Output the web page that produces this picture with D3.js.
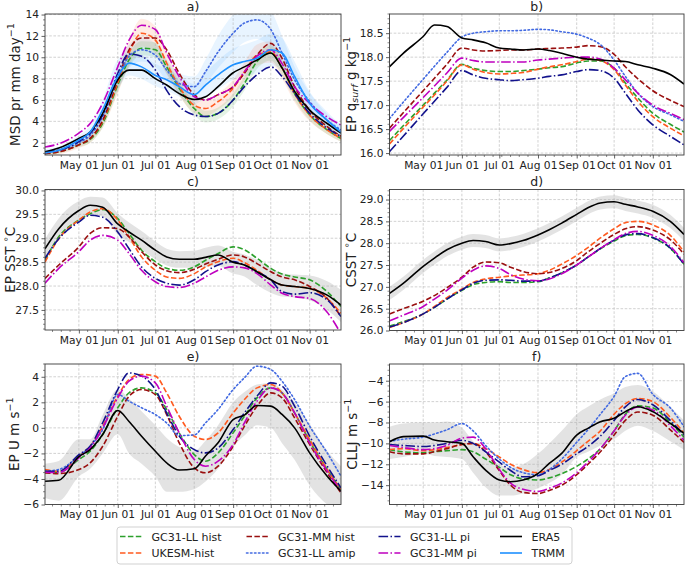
<!DOCTYPE html>
<html><head><meta charset="utf-8">
<script src="https://cdn.jsdelivr.net/npm/d3@7"></script>
<style>
body{margin:0;background:#fff;}
svg{font-family:"DejaVu Sans",sans-serif;}
</style></head><body>
<svg id="chart" width="685" height="567"></svg>
<script>
// ---------------- DATA ----------------
const dates = ["2001-04-04","2001-04-15","2001-05-01","2001-05-10","2001-05-20","2001-06-01","2001-06-10","2001-06-20","2001-07-01","2001-07-10","2001-07-20","2001-08-01","2001-08-10","2001-08-20","2001-09-01","2001-09-10","2001-09-20","2001-10-01","2001-10-10","2001-10-20","2001-11-01","2001-11-15","2001-11-26"];
const xTickDates = ["2001-05-01","2001-06-01","2001-07-01","2001-08-01","2001-09-01","2001-10-01","2001-11-01"];
const seriesNames = ["GC31-LL hist","UKESM-hist","GC31-MM hist","GC31-LL amip","GC31-LL pi","GC31-MM pi","ERA5","TRMM"];

// a) MSD precipitation
const msdLLhist = [1.0,1.15,1.8,2.3,3.8,7.4,9.75,10.85,10.7,9.1,7.1,5.2,4.45,4.75,6.0,7.55,9.6,10.4,9.0,6.6,4.6,3.2,2.4];
const msdUKESM  = [1.0,1.15,1.8,2.4,4.0,7.6,10.4,12.25,11.6,9.45,7.25,5.5,5.2,5.85,7.1,8.65,10.2,10.5,9.0,6.6,4.6,3.2,2.4];
const msdMMhist = [1.0,1.15,1.8,2.4,4.1,7.9,10.7,11.8,11.8,10.7,8.5,6.5,6.0,6.5,7.25,8.5,10.2,11.3,9.9,7.25,5.05,3.5,2.6];
const msdAmip   = [1.15,1.3,2.0,2.7,4.45,8.0,10.1,10.7,10.2,8.8,7.55,7.25,8.65,10.5,12.25,13.2,13.5,12.6,10.4,7.9,5.85,4.1,3.2];
const msdLLpi   = [1.15,1.3,2.1,2.9,4.6,8.5,10.3,10.1,8.8,6.9,5.4,4.6,4.45,4.75,6.0,7.25,8.35,9.1,8.2,6.6,4.75,3.35,2.6];
const msdMMpi   = [1.6,1.9,2.9,3.8,5.7,9.1,11.6,13.0,12.6,10.4,8.2,6.3,6.0,6.5,7.25,8.65,10.1,10.7,9.4,7.25,5.7,4.4,3.65];
const msdERA5   = [1.15,1.5,2.4,3.0,4.75,7.9,8.8,8.8,8.0,7.4,6.6,6.05,6.3,7.25,8.55,9.1,9.75,10.4,9.0,6.8,5.05,3.8,2.9];
const msdTRMM   = [1.05,1.3,2.25,3.0,5.1,8.2,9.45,9.1,8.3,7.9,7.25,6.5,7.4,8.35,9.3,9.6,9.9,10.7,10.4,8.2,5.7,4.1,3.0];
const msdAmipLo = [1.0,1.1,1.7,2.2,3.7,7.0,9.0,9.6,9.1,7.8,6.6,6.3,7.5,9.0,10.5,11.4,11.7,10.8,8.8,6.7,5.0,3.5,2.7];
const msdAmipHi = [1.4,1.6,2.4,3.2,5.2,9.0,11.2,11.8,11.3,9.8,8.5,8.2,9.8,12.0,14.0,15.0,15.3,14.4,12.0,9.1,6.7,4.7,3.7];
const msdTRMMLo = [0.9,1.1,1.9,2.5,4.2,7.0,8.3,8.0,7.3,6.9,6.3,5.6,6.2,7.0,7.9,8.2,8.5,9.2,8.9,6.9,4.7,3.4,2.5];
const msdTRMMHi = [1.3,1.6,2.7,3.6,6.0,9.8,10.5,10.2,9.4,8.9,8.3,7.5,8.6,9.7,10.8,11.2,11.6,12.2,11.8,9.6,6.8,4.9,3.6];
const msdUKESMLo = [0.8,0.9,1.5,2.0,3.4,6.6,9.2,11.0,10.4,8.4,6.4,4.8,4.5,5.1,6.3,7.8,9.2,9.5,8.0,5.8,4.0,2.8,2.1];
const msdUKESMHi = [1.2,1.4,2.1,2.8,4.6,8.6,11.6,13.6,12.9,10.5,8.1,6.2,5.9,6.6,7.9,9.5,11.2,11.5,10.0,7.4,5.2,3.6,2.7];
const msdLLhistLo = [0.9,1.0,1.6,2.0,3.4,6.8,9.1,10.2,10.0,8.5,6.5,4.6,3.9,4.2,5.4,6.9,8.9,9.7,8.3,6.0,4.1,2.8,2.1];
const msdLLhistHi = [1.1,1.3,2.0,2.6,4.2,8.0,10.4,11.5,11.4,9.7,7.7,5.8,5.0,5.3,6.6,8.2,10.3,11.1,9.7,7.2,5.1,3.6,2.7];

// b) EP surface specific humidity
const qLLhist = [16.26,16.57,17.0,17.25,17.52,17.85,17.77,17.72,17.7,17.7,17.72,17.75,17.78,17.8,17.88,17.92,17.92,17.77,17.46,17.15,16.83,16.6,16.44];
const qUKESM  = [16.19,16.51,16.96,17.21,17.5,17.84,17.75,17.68,17.65,17.66,17.68,17.75,17.8,17.84,17.91,17.96,17.93,17.74,17.42,17.08,16.76,16.52,16.36];
const qMMhist = [16.52,16.84,17.3,17.56,17.85,18.19,18.15,18.13,18.14,18.15,18.15,18.17,18.18,18.19,18.21,18.24,18.22,18.06,17.8,17.55,17.3,17.1,16.97];
const qAmip   = [16.72,17.06,17.54,17.81,18.1,18.42,18.5,18.53,18.55,18.55,18.56,18.58,18.57,18.53,18.48,18.4,18.26,17.94,17.6,17.25,16.97,16.8,16.66];
const qLLpi   = [16.03,16.35,16.82,17.08,17.37,17.72,17.63,17.56,17.53,17.51,17.53,17.56,17.6,17.63,17.7,17.74,17.72,17.56,17.25,16.9,16.59,16.35,16.17];
const qMMpi   = [16.45,16.74,17.16,17.4,17.67,17.98,17.93,17.9,17.9,17.9,17.9,17.94,17.96,17.98,18.0,18.0,17.96,17.77,17.53,17.25,17.0,16.83,16.7];
const qERA5   = [17.8,18.08,18.43,18.67,18.64,18.4,18.36,18.3,18.19,18.17,18.15,18.17,18.14,18.08,18.0,17.96,17.94,17.92,17.91,17.84,17.77,17.64,17.44];

// c) EP SST
const sstLLhist = [28.54,29.03,29.38,29.51,29.6,29.41,29.1,28.75,28.51,28.37,28.33,28.4,28.54,28.68,28.82,28.76,28.58,28.37,28.25,28.19,28.13,27.88,27.57];
const sstUKESM  = [28.5,28.99,29.38,29.55,29.62,29.38,29.03,28.61,28.33,28.19,28.16,28.26,28.4,28.51,28.58,28.49,28.33,28.13,28.02,27.99,27.95,27.74,27.43];
const sstMMhist = [28.16,28.44,28.82,29.1,29.22,29.2,29.03,28.72,28.44,28.32,28.28,28.35,28.46,28.56,28.65,28.61,28.47,28.3,28.19,28.13,27.99,27.74,27.36];
const sstLLpi   = [28.58,28.99,29.34,29.48,29.44,29.13,28.78,28.4,28.16,28.06,28.02,28.13,28.3,28.44,28.51,28.44,28.3,28.13,27.88,27.83,27.86,27.71,27.36];
const sstMMpi   = [28.06,28.37,28.72,28.96,29.06,28.96,28.68,28.33,28.09,27.99,27.97,28.06,28.19,28.33,28.4,28.38,28.26,28.02,27.85,27.78,27.74,27.45,27.0];
const sstERA5   = [28.78,29.2,29.58,29.69,29.65,29.3,29.13,28.96,28.75,28.61,28.56,28.56,28.6,28.65,28.5,28.44,28.3,28.13,28.02,27.99,27.95,27.81,27.6];
const sstERA5Lo = [28.55,28.98,29.38,29.5,29.45,29.08,28.92,28.76,28.56,28.43,28.38,28.38,28.4,28.42,28.26,28.2,28.02,27.86,27.78,27.76,27.7,27.5,27.25];
const sstERA5Hi = [28.98,29.42,29.78,29.87,29.85,29.52,29.33,29.15,28.93,28.78,28.73,28.74,28.8,28.85,28.72,28.66,28.55,28.38,28.27,28.24,28.22,28.1,27.92];

// d) CSST
const csstLLhist = [26.1,26.2,26.38,26.53,26.72,26.92,27.05,27.1,27.12,27.1,27.1,27.12,27.2,27.32,27.5,27.68,27.87,28.05,28.17,28.2,28.12,27.88,27.52];
const csstUKESM  = [26.07,26.18,26.38,26.55,26.75,26.95,27.1,27.18,27.22,27.25,27.27,27.3,27.38,27.52,27.72,27.9,28.12,28.33,28.47,28.5,28.42,28.18,27.8];
const csstMMhist = [26.38,26.5,26.67,26.8,26.98,27.22,27.45,27.57,27.55,27.45,27.35,27.3,27.33,27.42,27.6,27.8,28.0,28.2,28.33,28.38,28.3,28.08,27.75];
const csstLLpi   = [26.08,26.18,26.38,26.53,26.72,26.93,27.08,27.15,27.16,27.15,27.13,27.13,27.2,27.32,27.5,27.68,27.88,28.07,28.19,28.22,28.13,27.89,27.52];
const csstMMpi   = [26.22,26.35,26.55,26.72,26.92,27.2,27.38,27.48,27.42,27.28,27.18,27.14,27.18,27.3,27.5,27.68,27.88,28.08,28.22,28.27,28.18,27.93,27.55];
const csstERA5   = [26.85,27.08,27.47,27.66,27.85,28.0,28.06,28.04,27.96,27.99,28.06,28.19,28.31,28.46,28.66,28.81,28.92,28.95,28.89,28.83,28.73,28.5,28.2];
const csstERA5Lo = [26.7,26.93,27.32,27.51,27.7,27.85,27.91,27.89,27.81,27.84,27.91,28.04,28.16,28.31,28.51,28.66,28.77,28.8,28.74,28.68,28.58,28.35,28.05];
const csstERA5Hi = [27.0,27.23,27.62,27.81,28.0,28.15,28.21,28.19,28.11,28.14,28.21,28.34,28.46,28.61,28.81,28.96,29.07,29.1,29.04,28.98,28.88,28.65,28.35];

// e) EP U wind
const uLLhist = [-3.4,-3.47,-2.48,-1.83,-0.52,1.57,2.74,3.13,2.74,1.44,-0.39,-2.09,-2.61,-1.96,-0.39,0.91,2.35,3.13,2.74,1.17,-1.04,-3.26,-4.83];
const uUKESM  = [-3.26,-3.4,-2.22,-1.44,0.13,2.48,3.79,4.18,4.05,2.74,0.91,-0.65,-0.91,-0.39,1.17,2.22,3.13,3.39,2.74,1.17,-0.91,-3.26,-4.83];
const uMMhist = [-3.52,-3.58,-3.26,-2.74,-1.44,0.91,2.48,3.0,2.61,1.04,-1.17,-3.13,-3.52,-3.0,-1.44,0.13,1.7,2.74,2.35,0.78,-1.3,-3.52,-5.09];
const uAmip   = [-3.4,-3.26,-2.22,-1.44,-0.13,2.61,2.09,1.57,1.04,0.39,-0.6,-0.55,0.39,1.44,3.0,3.92,4.83,4.57,3.65,2.22,0.13,-1.96,-3.79];
const uLLpi   = [-3.4,-3.4,-2.1,-1.44,0.4,3.0,4.3,4.05,3.0,1.17,-0.65,-1.7,-1.96,-1.57,-0.13,1.17,2.48,3.52,3.26,1.7,-0.65,-3.0,-4.7];
const uMMpi   = [-3.47,-3.5,-2.35,-1.57,0.0,2.35,3.65,4.05,3.52,1.7,-0.39,-2.48,-3.0,-2.61,-1.3,0.39,2.09,3.13,2.74,1.17,-1.17,-3.39,-4.96];
const uERA5   = [-4.18,-4.1,-2.25,-1.7,-0.52,1.36,0.5,-0.65,-1.83,-2.74,-3.3,-3.2,-2.2,-1.17,0.65,1.0,1.75,1.7,1.05,0.0,-1.96,-3.79,-4.96];
const uERA5Lo = [-5.5,-5.7,-3.8,-3.2,-2.0,-0.5,-2.0,-2.8,-3.8,-5.0,-5.0,-4.8,-4.2,-3.2,-1.5,-0.6,0.2,0.0,-1.2,-2.5,-4.5,-6.0,-6.5];
const uERA5Hi = [-2.8,-2.6,-0.9,-0.9,1.0,3.0,2.3,1.3,0.2,-0.8,-1.5,-1.8,-1.0,0.2,2.0,2.8,3.4,3.5,3.0,2.0,0.3,-1.8,-3.0];

// f) CLLJ
const jLLhist = [-10.6,-10.8,-10.9,-10.8,-10.7,-10.6,-10.8,-11.5,-12.3,-13.0,-13.4,-13.5,-13.3,-12.9,-12.2,-11.5,-10.5,-8.8,-7.2,-6.4,-6.6,-8.0,-9.4];
const jUKESM  = [-10.6,-10.5,-10.7,-10.6,-10.4,-10.1,-10.0,-10.5,-11.3,-12.0,-12.5,-12.8,-12.5,-11.8,-10.7,-9.8,-8.8,-7.2,-6.2,-5.7,-6.0,-7.5,-9.0];
const jMMhist = [-10.8,-11.0,-11.0,-10.8,-10.5,-10.1,-10.0,-10.8,-12.6,-14.0,-14.7,-14.8,-14.5,-14.0,-13.0,-12.0,-10.8,-9.2,-7.8,-7.0,-7.3,-8.7,-9.9];
const jAmip   = [-9.8,-9.6,-9.4,-9.1,-8.7,-8.1,-8.8,-10.2,-11.5,-12.3,-12.8,-13.0,-12.5,-11.5,-9.9,-8.7,-7.2,-5.5,-3.6,-3.3,-5.3,-6.6,-8.4];
const jLLpi   = [-10.1,-10.2,-10.3,-10.2,-10.0,-9.7,-10.0,-10.8,-11.8,-12.6,-13.2,-13.1,-12.6,-12.0,-11.0,-10.3,-9.3,-7.8,-6.5,-5.8,-6.3,-7.8,-9.2];
const jMMpi   = [-10.2,-10.4,-10.6,-10.5,-10.2,-9.5,-9.4,-10.5,-12.5,-13.8,-14.4,-14.6,-14.3,-13.8,-12.8,-11.8,-10.5,-8.8,-7.3,-6.5,-6.8,-8.3,-9.7];
const jERA5   = [-9.84,-9.35,-9.3,-9.68,-9.84,-10.0,-11.28,-12.56,-13.51,-13.67,-13.51,-12.88,-11.92,-10.96,-9.2,-8.56,-7.92,-7.6,-6.96,-6.49,-6.96,-8.08,-9.04];
const jERA5Lo = [-11.5,-11.3,-11.0,-11.2,-11.3,-11.5,-12.8,-14.2,-15.0,-15.0,-14.8,-14.3,-13.8,-13.0,-11.3,-10.8,-10.2,-9.6,-8.8,-8.3,-8.8,-9.8,-10.6];
const jERA5Hi = [-8.4,-8.1,-8.0,-8.0,-7.9,-8.5,-9.8,-11.0,-12.0,-12.3,-12.0,-11.0,-10.0,-8.8,-7.2,-6.5,-5.8,-5.2,-4.6,-4.4,-5.0,-6.5,-7.8];

// y tick values
const ticksA = [2,4,6,8,10,12,14];
const ticksB = [16.0,16.5,17.0,17.5,18.0,18.5];
const ticksC = [27.5,28.0,28.5,29.0,29.5,30.0];
const ticksD = [26.0,26.5,27.0,27.5,28.0,28.5,29.0];
const ticksE = [-6,-4,-2,0,2,4];
const ticksF = [-14,-12,-10,-8,-6,-4];

// ---------------- STYLES ----------------
const STY = {
  "GC31-LL hist": {c:"#2ca02c", dash:"5.5,2.4"},
  "UKESM-hist":   {c:"#ff5a1f", dash:"5.5,2.4"},
  "GC31-MM hist": {c:"#990f0f", dash:"5.5,2.4"},
  "GC31-LL amip": {c:"#4169e1", dash:"1.5,2.5"},
  "GC31-LL pi":   {c:"#12128c", dash:"9.6,2.4,1.5,2.4"},
  "GC31-MM pi":   {c:"#bf00bf", dash:"9.6,2.4,1.5,2.4"},
  "ERA5":         {c:"#000000", dash:null},
  "TRMM":         {c:"#1e90ff", dash:null}
};

const parse = d3.timeParse("%Y-%m-%d");
const D = dates.map(parse);
const dom = [parse("2001-04-04"), parse("2001-11-26")];

const panels = [
  {id:"a", title:"a)", x0:45, x1:341, y0:14, y1:155, yd:[0.85,14.05], ticks:ticksA, fmt:d3.format("d"), labX:15,
   label:[["MSD pr mm day",""],["−1","sup"]],
   bands:[{lo:msdAmipLo,hi:msdAmipHi,c:"#1e90ff",o:0.1},{lo:msdTRMMLo,hi:msdTRMMHi,c:"#1e90ff",o:0.1},
          {lo:msdUKESMLo,hi:msdUKESMHi,c:"#ff5a1f",o:0.12},{lo:msdLLhistLo,hi:msdLLhistHi,c:"#2ca02c",o:0.12}],
   series:{"GC31-LL hist":msdLLhist,"UKESM-hist":msdUKESM,"GC31-MM hist":msdMMhist,"GC31-LL amip":msdAmip,"GC31-LL pi":msdLLpi,"GC31-MM pi":msdMMpi,"ERA5":msdERA5,"TRMM":msdTRMM}},
  {id:"b", title:"b)", x0:389.5, x1:684, y0:14, y1:155, yd:[15.96,18.9], ticks:ticksB, fmt:d3.format(".1f"), labX:351,
   label:[["EP q",""],["surf","sub"],[" g kg",""],["−1","sup"]],
   bands:[],
   series:{"GC31-LL hist":qLLhist,"UKESM-hist":qUKESM,"GC31-MM hist":qMMhist,"GC31-LL amip":qAmip,"GC31-LL pi":qLLpi,"GC31-MM pi":qMMpi,"ERA5":qERA5}},
  {id:"c", title:"c)", x0:45, x1:341, y0:189.5, y1:330, yd:[27.08,30.02], ticks:ticksC, fmt:d3.format(".1f"), labX:10,
   label:[["EP SST ",""],["∘","sup"],["C",""]],
   bands:[{lo:sstERA5Lo,hi:sstERA5Hi,c:"#808080",o:0.22}],
   series:{"GC31-LL hist":sstLLhist,"UKESM-hist":sstUKESM,"GC31-MM hist":sstMMhist,"GC31-LL pi":sstLLpi,"GC31-MM pi":sstMMpi,"ERA5":sstERA5}},
  {id:"d", title:"d)", x0:389.5, x1:684, y0:189.5, y1:330.5, yd:[26.0,29.23], ticks:ticksD, fmt:d3.format(".1f"), labX:351,
   label:[["CSST ",""],["∘","sup"],["C",""]],
   bands:[{lo:csstERA5Lo,hi:csstERA5Hi,c:"#808080",o:0.22}],
   series:{"GC31-LL hist":csstLLhist,"UKESM-hist":csstUKESM,"GC31-MM hist":csstMMhist,"GC31-LL pi":csstLLpi,"GC31-MM pi":csstMMpi,"ERA5":csstERA5}},
  {id:"e", title:"e)", x0:45, x1:341, y0:364, y1:504.5, yd:[-6,5], ticks:ticksE, fmt:d3.format("d"), labX:14,
   label:[["EP U m s",""],["−1","sup"]],
   bands:[{lo:uERA5Lo,hi:uERA5Hi,c:"#808080",o:0.22}],
   series:{"GC31-LL hist":uLLhist,"UKESM-hist":uUKESM,"GC31-MM hist":uMMhist,"GC31-LL amip":uAmip,"GC31-LL pi":uLLpi,"GC31-MM pi":uMMpi,"ERA5":uERA5}},
  {id:"f", title:"f)", x0:389.5, x1:684, y0:364, y1:504.5, yd:[-15.85,-2.4], ticks:ticksF, fmt:d3.format("d"), labX:352,
   label:[["CLLJ m s",""],["−1","sup"]],
   bands:[{lo:jERA5Lo,hi:jERA5Hi,c:"#808080",o:0.22}],
   series:{"GC31-LL hist":jLLhist,"UKESM-hist":jUKESM,"GC31-MM hist":jMMhist,"GC31-LL amip":jAmip,"GC31-LL pi":jLLpi,"GC31-MM pi":jMMpi,"ERA5":jERA5}}
];

const svg = d3.select("#chart");
const defs = svg.append("defs");
const TXT = "#222";
const AX = "#3a3a3a";
const xFmt = d3.timeFormat("%b %d");

function minorTicks(ticks, dom) {
  const step = ticks[1]-ticks[0];
  const exp = Math.pow(10, Math.floor(Math.log10(step)));
  const m = step/exp;
  const nd = [1,2.5,5,10].some(v=>Math.abs(v-m)<1e-6) ? 5 : 4;
  const ms = step/nd, out=[];
  const lo = Math.min(dom[0],dom[1]), hi = Math.max(dom[0],dom[1]);
  for (let v = Math.ceil(lo/ms-1e-9)*ms; v <= hi+1e-9; v += ms) {
    if (!ticks.some(t=>Math.abs(t-v)<ms*0.01)) out.push(v);
  }
  return out;
}

panels.forEach(p => {
  const x = d3.scaleTime().domain(dom).range([p.x0, p.x1]);
  const y = d3.scaleLinear().domain(p.yd).range([p.y1, p.y0]);
  const g = svg.append("g");
  const clip = "clip-"+p.id;
  defs.append("clipPath").attr("id",clip).append("rect")
    .attr("x",p.x0).attr("y",p.y0).attr("width",p.x1-p.x0).attr("height",p.y1-p.y0);

  // bands
  p.bands.forEach(b => {
    const area = d3.area().x((d,i)=>x(D[i])).y0((d,i)=>y(b.lo[i])).y1((d,i)=>y(b.hi[i])).curve(d3.curveMonotoneX);
    g.append("path").datum(b.lo).attr("d",area).attr("fill",b.c).attr("fill-opacity",b.o)
      .attr("clip-path",`url(#${clip})`);
  });

  // grid
  const xt = xTickDates.map(parse);
  const grid = g.append("g").attr("stroke","#b0b0b0").attr("stroke-width",0.7).attr("stroke-dasharray","2.6,1.6").attr("opacity",0.8);
  xt.forEach(t => grid.append("line").attr("x1",x(t)).attr("x2",x(t)).attr("y1",p.y0).attr("y2",p.y1));
  p.ticks.forEach(t => { if (y(t) > p.y0+0.5 && y(t) < p.y1-0.5) grid.append("line").attr("x1",p.x0).attr("x2",p.x1).attr("y1",y(t)).attr("y2",y(t)); });

  // lines
  const line = d3.line().x((d,i)=>x(D[i])).y(d=>y(d)).curve(d3.curveMonotoneX);
  const lg = g.append("g").attr("clip-path",`url(#${clip})`);
  seriesNames.forEach(name => {
    const vals = p.series[name];
    if (!vals) return;
    const s = STY[name];
    lg.append("path").datum(vals).attr("d",line).attr("fill","none")
      .attr("stroke",s.c).attr("stroke-width",1.6)
      .attr("stroke-dasharray",s.dash)
      .attr("stroke-linecap", name==="GC31-LL amip" ? "round" : "butt");
  });

  // x axis
  const xa = d3.axisBottom(x).tickValues(xt).tickFormat(xFmt).tickSize(3.5).tickPadding(2.5);
  const xg = g.append("g").attr("transform",`translate(0,${p.y1})`).call(xa);
  xg.select(".domain").remove();
  xg.selectAll("line").attr("stroke",AX).attr("stroke-width",0.8);
  xg.selectAll("text").attr("font-size",10.7).attr("fill",TXT).attr("font-family","DejaVu Sans");
  // minor x ticks (weekly)
  const mx = [];
  for (let t = d3.timeDay.offset(parse("2001-05-01"), -21); t <= dom[1]; t = d3.timeDay.offset(t,7)) {
    if (t >= dom[0] && !xt.some(u=>Math.abs(u-t)<864e5*2)) mx.push(t);
  }
  mx.forEach(t => g.append("line").attr("x1",x(t)).attr("x2",x(t)).attr("y1",p.y1).attr("y2",p.y1+2)
    .attr("stroke",AX).attr("stroke-width",0.6));

  // y axis
  const ya = d3.axisLeft(y).tickValues(p.ticks).tickFormat(p.fmt).tickSize(3.5).tickPadding(2.5);
  const yg = g.append("g").attr("transform",`translate(${p.x0},0)`).call(ya);
  yg.select(".domain").remove();
  yg.selectAll("line").attr("stroke",AX).attr("stroke-width",0.8);
  yg.selectAll("text").attr("font-size",10.7).attr("fill",TXT).attr("font-family","DejaVu Sans");
  minorTicks(p.ticks, p.yd).forEach(v => g.append("line").attr("x1",p.x0-2).attr("x2",p.x0)
    .attr("y1",y(v)).attr("y2",y(v)).attr("stroke",AX).attr("stroke-width",0.6));

  // frame
  g.append("rect").attr("x",p.x0).attr("y",p.y0).attr("width",p.x1-p.x0).attr("height",p.y1-p.y0)
    .attr("fill","none").attr("stroke",AX).attr("stroke-width",0.9);

  // title
  g.append("text").attr("x",(p.x0+p.x1)/2).attr("y",p.y0-3.5).attr("text-anchor","middle")
    .attr("font-size",12.5).attr("fill",TXT).text(p.title);

  // y label
  const cy = (p.y0+p.y1)/2;
  const lt = g.append("text").attr("transform",`translate(${p.labX},${cy}) rotate(-90)`)
    .attr("text-anchor","middle").attr("dominant-baseline","central").attr("font-size",13.5).attr("fill",TXT);
  let shift = 0;
  p.label.forEach(([t,kind]) => {
    const ts = lt.append("tspan").text(t);
    let target = 0;
    if (kind==="sup") { ts.attr("font-size",9.5); target = -5.5; }
    if (kind==="sub") { ts.attr("font-size",9.5).attr("font-style","italic"); target = 3; }
    ts.attr("dy", target - shift);
    shift = target;
  });
});

// legend
const leg = svg.append("g");
leg.append("rect").attr("x",117).attr("y",527).attr("width",455).attr("height",37).attr("rx",3)
  .attr("fill","#fff").attr("fill-opacity",0.8).attr("stroke","#cccccc").attr("stroke-width",0.9);
const colX = [120, 246.5, 378.5, 500];
const rowY = [536.5, 553];
const legendOrder = [["GC31-LL hist","UKESM-hist"],["GC31-MM hist","GC31-LL amip"],["GC31-LL pi","GC31-MM pi"],["ERA5","TRMM"]];
legendOrder.forEach((col, ci) => col.forEach((name, ri) => {
  const s = STY[name];
  leg.append("line").attr("x1",colX[ci]).attr("x2",colX[ci]+22).attr("y1",rowY[ri]).attr("y2",rowY[ri])
    .attr("stroke",s.c).attr("stroke-width",1.6).attr("stroke-dasharray",s.dash)
    .attr("stroke-linecap", name==="GC31-LL amip" ? "round" : "butt");
  leg.append("text").attr("x",colX[ci]+31.5).attr("y",rowY[ri]+4).attr("font-size",11).attr("fill",TXT).text(name);
}));
</script>
</body></html>
